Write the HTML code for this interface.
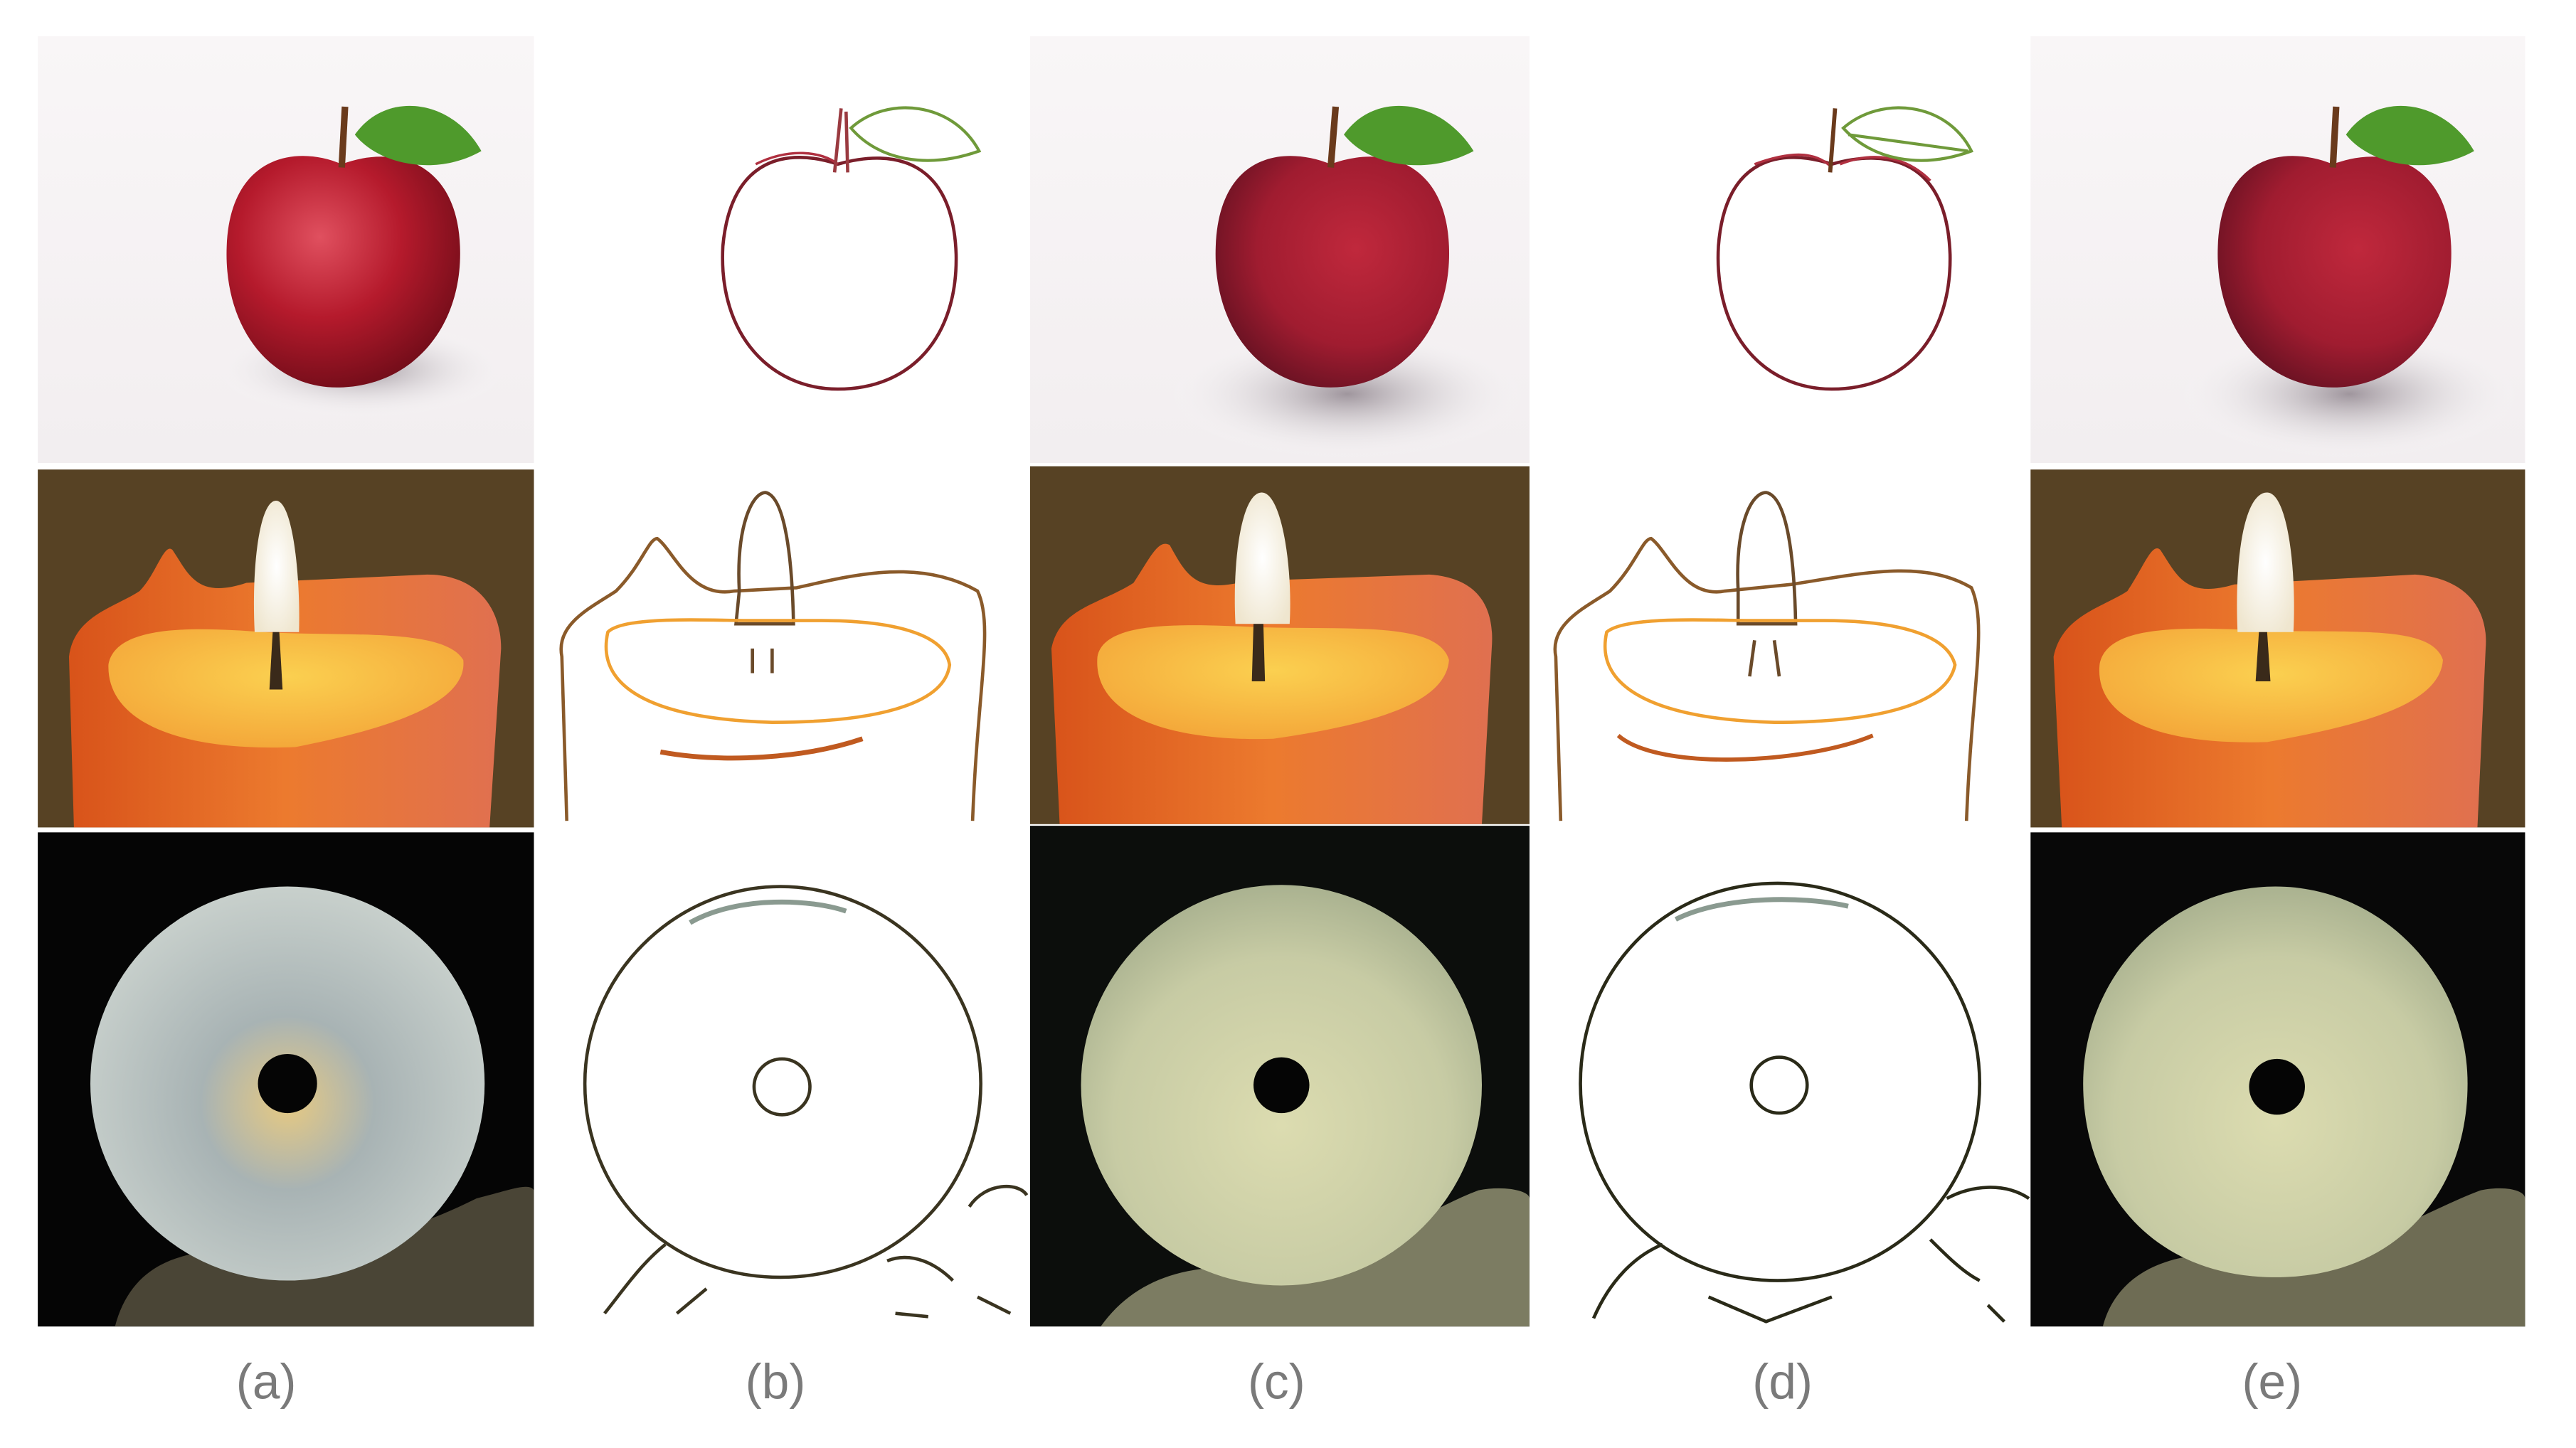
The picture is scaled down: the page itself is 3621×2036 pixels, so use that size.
<!DOCTYPE html>
<html><head><meta charset="utf-8">
<style>
html,body{margin:0;padding:0;background:#fff;}
svg{display:block;}
text{font-family:"Liberation Sans",sans-serif;}
</style></head>
<body>
<svg width="3621" height="2036" viewBox="0 0 1568 882" preserveAspectRatio="none" xmlns="http://www.w3.org/2000/svg">
<defs>
  <radialGradient id="appleG" cx="0.4" cy="0.35" r="0.7">
    <stop offset="0" stop-color="#e0505f"/><stop offset="0.5" stop-color="#b51a2c"/><stop offset="1" stop-color="#6e0c18"/>
  </radialGradient>
  <radialGradient id="appleG2" cx="0.6" cy="0.4" r="0.7">
    <stop offset="0" stop-color="#c0283c"/><stop offset="0.6" stop-color="#a01c30"/><stop offset="1" stop-color="#5e1020"/>
  </radialGradient>
  <radialGradient id="shadowG" cx="0.5" cy="0.5" r="0.5">
    <stop offset="0" stop-color="#8a7f88" stop-opacity="0.8"/><stop offset="1" stop-color="#ffffff" stop-opacity="0"/>
  </radialGradient>
  <linearGradient id="bgW" x1="0" y1="0" x2="0" y2="1">
    <stop offset="0" stop-color="#f9f6f7"/><stop offset="1" stop-color="#f2eef0"/>
  </linearGradient>
  <linearGradient id="candleG" x1="0" y1="0" x2="1" y2="0">
    <stop offset="0" stop-color="#d8531a"/><stop offset="0.5" stop-color="#ec7a2e"/><stop offset="1" stop-color="#e07050"/>
  </linearGradient>
  <radialGradient id="poolG" cx="0.5" cy="0.4" r="0.6">
    <stop offset="0" stop-color="#fbd050"/><stop offset="1" stop-color="#f4a83a"/>
  </radialGradient>
  <radialGradient id="flameG" cx="0.5" cy="0.5" r="0.6">
    <stop offset="0" stop-color="#ffffff"/><stop offset="1" stop-color="#efe6cf"/>
  </radialGradient>
  <radialGradient id="jadeA" cx="0.5" cy="0.55" r="0.55">
    <stop offset="0" stop-color="#e6c982"/><stop offset="0.4" stop-color="#a8b3b4"/><stop offset="1" stop-color="#c8d0cc"/>
  </radialGradient>
  <radialGradient id="jadeC" cx="0.5" cy="0.6" r="0.6">
    <stop offset="0" stop-color="#dcdcb0"/><stop offset="0.7" stop-color="#c7cba4"/><stop offset="1" stop-color="#aab290"/>
  </radialGradient>
</defs>

<g>
  <rect x="23" y="22" width="302" height="260" fill="url(#bgW)"/>
  <ellipse cx="220" cy="225" rx="90" ry="30" fill="url(#shadowG)"/>
  <path d="M208,100 C180,88 140,95 138,150 C136,200 165,236 205,236 C250,236 282,200 280,150 C278,98 240,88 208,100Z" fill="url(#appleG)"/>
  <path d="M208,102 L210,65" stroke="#6a3a1c" stroke-width="4"/>
  <path d="M216,82 C235,55 275,60 293,92 C265,108 230,100 216,82Z" fill="#4f9a2c"/>
</g>
<g fill="none">
  <path d="M510,100 C480,90 445,95 440,150 C437,205 470,237 510,237 C555,237 583,205 582,155 C580,98 545,90 510,100Z" stroke="#7a1e2a" stroke-width="2"/>
  <path d="M460,100 C480,90 500,92 510,100" stroke="#b03040" stroke-width="1.5"/>
  <path d="M508,105 L512,66 M516,105 L515,68" stroke="#9a3a40" stroke-width="2"/>
  <path d="M518,78 C540,58 580,62 596,92 C565,103 535,98 518,78Z" stroke="#6f9a3a" stroke-width="1.8"/>
</g>
<g>
  <rect x="627" y="22" width="304" height="260" fill="url(#bgW)"/>
  <ellipse cx="820" cy="240" rx="110" ry="40" fill="url(#shadowG)"/>
  <path d="M810,100 C780,88 742,95 740,150 C738,200 768,236 810,236 C852,236 884,200 882,150 C880,98 842,88 810,100Z" fill="url(#appleG2)"/>
  <path d="M810,102 L813,65" stroke="#6a3a1c" stroke-width="4"/>
  <path d="M818,82 C837,55 877,60 897,92 C867,108 832,100 818,82Z" fill="#4f9a2c"/>
</g>
<g fill="none">
  <path d="M1115,100 C1085,90 1050,95 1046,150 C1043,205 1075,237 1115,237 C1160,237 1188,205 1187,155 C1185,98 1150,90 1115,100Z" stroke="#7a1e2a" stroke-width="2"/>
  <path d="M1068,100 C1090,92 1105,92 1115,102 M1120,100 C1140,92 1160,95 1175,110" stroke="#b03040" stroke-width="1.5"/>
  <path d="M1114,105 L1117,66" stroke="#6a3a1c" stroke-width="2.5"/>
  <path d="M1122,78 C1145,58 1185,62 1200,92 C1170,103 1140,98 1122,78Z M1125,82 L1198,92" stroke="#6f9a3a" stroke-width="1.8"/>
</g>
<g>
  <rect x="1236" y="22" width="301" height="260" fill="url(#bgW)"/>
  <ellipse cx="1430" cy="240" rx="105" ry="40" fill="url(#shadowG)"/>
  <path d="M1420,100 C1390,88 1352,95 1350,150 C1348,200 1378,236 1420,236 C1462,236 1494,200 1492,150 C1490,98 1452,88 1420,100Z" fill="url(#appleG2)"/>
  <path d="M1420,102 L1422,65" stroke="#6a3a1c" stroke-width="4"/>
  <path d="M1428,82 C1447,55 1487,60 1506,92 C1477,108 1442,100 1428,82Z" fill="#4f9a2c"/>
</g>

<g>
  <rect x="23" y="286" width="302" height="218" fill="#574224"/>
  <path d="M45,504 L42,400 C45,375 70,370 85,360 C95,350 100,330 105,335 C115,350 120,365 150,355 L260,350 C290,350 305,370 305,395 L298,504Z" fill="url(#candleG)"/>
  <path d="M66,405 C70,380 120,382 160,385 C210,388 270,382 282,402 C285,430 230,445 180,455 C110,458 65,440 66,405Z" fill="url(#poolG)"/>
  <path d="M168,305 C178,305 183,350 182,385 L155,385 C153,345 158,305 168,305Z" fill="url(#flameG)"/>
  <path d="M166,385 L164,420 L172,420 L170,385Z" fill="#3a2a1a"/>
</g>
<g fill="none" stroke-width="2">
  <path d="M345,500 L342,400 C338,380 360,370 375,360 C390,345 395,328 400,328 C410,335 420,365 447,360 L485,358 C520,350 560,340 595,360 C605,380 595,420 592,500" stroke="#8a5a2a"/>
  <path d="M450,360 C448,320 458,300 466,300 C476,302 482,330 483,380 L448,380 Z" stroke="#6a4a2a"/>
  <path d="M370,385 C380,375 430,378 460,378 L500,378 C540,378 575,385 578,405 C575,430 530,440 470,440 C400,438 362,420 370,385Z" stroke="#f0a030"/>
  <path d="M458,395 L458,410 M470,395 L470,410" stroke="#6a4a2a"/>
  <path d="M402,458 C440,465 490,462 525,450" stroke="#c05a20" stroke-width="3"/>
</g>
<g>
  <rect x="627" y="284" width="304" height="218" fill="#574224"/>
  <path d="M645,502 L640,395 C645,370 670,368 690,355 C700,340 705,328 712,332 C722,350 728,362 758,354 L870,350 C900,352 910,370 908,395 L902,502Z" fill="url(#candleG)"/>
  <path d="M668,400 C672,378 720,380 765,382 C820,384 875,378 882,402 C880,430 830,442 775,450 C710,452 665,435 668,400Z" fill="url(#poolG)"/>
  <path d="M768,300 C780,300 787,345 785,380 L752,380 C750,340 756,300 768,300Z" fill="url(#flameG)"/>
  <path d="M763,380 L762,415 L770,415 L769,380Z" fill="#3a2a1a"/>
</g>
<g fill="none" stroke-width="2">
  <path d="M950,500 L947,400 C943,380 965,370 980,360 C995,345 1000,328 1005,328 C1015,335 1025,365 1050,360 L1090,356 C1130,350 1170,340 1200,358 C1210,380 1200,420 1197,500" stroke="#8a5a2a"/>
  <path d="M1058,360 C1056,320 1066,300 1075,300 C1086,302 1092,330 1093,380 L1058,380 Z" stroke="#6a4a2a"/>
  <path d="M978,385 C990,375 1040,378 1070,378 L1110,378 C1150,378 1185,385 1190,405 C1185,430 1140,440 1080,440 C1010,438 970,420 978,385Z" stroke="#f0a030"/>
  <path d="M1068,390 L1065,412 M1080,390 L1083,412" stroke="#6a4a2a"/>
  <path d="M985,448 C1010,470 1100,465 1140,448" stroke="#c05a20" stroke-width="2.5"/>
</g>
<g>
  <rect x="1236" y="286" width="301" height="218" fill="#574224"/>
  <path d="M1255,504 L1250,400 C1255,375 1280,370 1295,360 C1305,345 1310,330 1315,335 C1325,350 1330,365 1360,356 L1470,350 C1500,352 1515,370 1513,395 L1508,504Z" fill="url(#candleG)"/>
  <path d="M1278,405 C1282,380 1330,382 1375,384 C1430,386 1480,380 1487,402 C1485,430 1435,442 1380,452 C1315,454 1275,438 1278,405Z" fill="url(#poolG)"/>
  <path d="M1380,300 C1392,300 1398,345 1396,385 L1362,385 C1360,340 1366,300 1380,300Z" fill="url(#flameG)"/>
  <path d="M1375,385 L1373,415 L1382,415 L1380,385Z" fill="#3a2a1a"/>
</g>

<g>
  <rect x="23" y="507" width="302" height="301" fill="#050505"/>
  <path d="M70,808 C80,770 110,760 150,762 C200,765 250,750 290,730 C310,725 322,720 325,725 L325,808Z" fill="#4a4536"/>
  <circle cx="175" cy="660" r="120" fill="url(#jadeA)"/>
  <circle cx="175" cy="660" r="18" fill="#050505"/>
</g>
<g fill="none" stroke="#3a3420" stroke-width="2">
  <path d="M475,540 C540,540 597,595 597,660 C597,725 545,778 475,778 C405,778 356,725 356,660 C356,595 410,540 475,540Z"/>
  <path d="M420,562 C450,545 495,548 515,555" stroke="#8a9a90" stroke-width="3"/>
  <circle cx="476" cy="662" r="17"/>
  <path d="M368,800 C380,785 390,770 405,758 M412,800 L430,785 M540,768 C555,762 570,770 580,780 M590,735 C600,720 620,720 625,728 M545,800 L565,802 M595,790 L615,800"/>
</g>
<g>
  <rect x="627" y="503" width="304" height="305" fill="#0c0e0c"/>
  <path d="M670,808 C690,780 720,770 760,772 C820,775 860,740 900,725 C915,722 931,725 931,730 L931,808Z" fill="#7c7c62"/>
  <circle cx="780" cy="661" r="122" fill="url(#jadeC)"/>
  <circle cx="780" cy="661" r="17" fill="#050505"/>
</g>
<g fill="none" stroke="#2a2a18" stroke-width="2">
  <path d="M1082,538 C1150,538 1205,592 1205,660 C1205,728 1150,780 1082,780 C1012,780 962,728 962,660 C962,592 1012,538 1082,538Z"/>
  <path d="M1020,560 C1050,545 1100,546 1125,552" stroke="#8a9a90" stroke-width="3"/>
  <circle cx="1083" cy="661" r="17"/>
  <path d="M970,803 C980,780 995,765 1012,758 M1040,790 L1075,805 L1115,790 M1175,755 C1185,765 1195,775 1205,780 M1185,730 C1200,722 1220,720 1235,730 M1210,795 L1220,805"/>
</g>
<g>
  <rect x="1236" y="507" width="301" height="301" fill="#080808"/>
  <path d="M1280,808 C1290,770 1330,760 1370,765 C1430,770 1470,740 1510,725 C1525,722 1537,725 1537,730 L1537,808Z" fill="#6e6c54"/>
  <path d="M1385,540 C1450,540 1502,595 1502,660 C1502,725 1460,778 1385,778 C1310,778 1268,725 1268,660 C1268,595 1320,540 1385,540Z" fill="url(#jadeC)"/>
  <circle cx="1386" cy="662" r="17" fill="#050505"/>
</g>

<g fill="#7a7a7a" font-size="30" text-anchor="middle">
  <text x="162" y="852">(a)</text>
  <text x="472" y="852">(b)</text>
  <text x="777" y="852">(c)</text>
  <text x="1085" y="852">(d)</text>
  <text x="1383" y="852">(e)</text>
</g>
</svg>
</body></html>
